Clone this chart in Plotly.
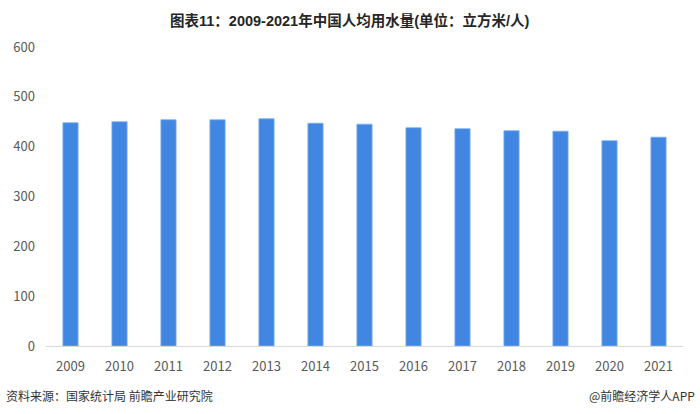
import plotly.graph_objects as go

years = ["2009", "2010", "2011", "2012", "2013", "2014", "2015", "2016", "2017", "2018", "2019", "2020", "2021"]
water_per_capita = [448, 450, 454, 454, 456, 447, 445, 438, 436, 432, 431, 412, 419]
y_ticks = [0, 100, 200, 300, 400, 500, 600]

title_text = "图表11：2009-2021年中国人均用水量(单位：立方米/人)"
source_text = "资料来源：国家统计局 前瞻产业研究院"
brand_text = "@前瞻经济学人APP"

font_cn = "Noto Sans CJK SC, Microsoft YaHei, sans-serif"
font_title = "Liberation Sans, Arial, Noto Sans CJK SC, sans-serif"

L, R, T, B = 46, 17, 47, 68
PW, PH = 700 - L - R, 414 - T - B

fig = go.Figure()
fig.add_trace(go.Bar(
    x=years, y=water_per_capita,
    marker=dict(color="#4186E1", line=dict(color="#7AAEF0", width=0.8)),
    width=0.31,
    showlegend=False,
    hoverinfo="x+y",
))

fig.update_layout(
    width=700, height=414,
    margin=dict(l=L, r=R, t=T, b=B),
    paper_bgcolor="white", plot_bgcolor="white",
    font=dict(family=font_cn, size=13, color="#595959"),
    xaxis=dict(
        type="category", showline=True, linecolor="#D9D9D9", linewidth=1,
        ticks="", showgrid=False, tickfont=dict(size=13, color="#595959"),
        ticklabelstandoff=8,
    ),
    yaxis=dict(
        range=[0, 600], tickvals=y_ticks, showgrid=False, zeroline=False,
        showline=False, ticks="", tickfont=dict(size=13, color="#595959"),
        ticklabelstandoff=10,
    ),
)

fig.add_annotation(text="<b>" + title_text + "</b>", xref="paper", yref="paper",
                   x=(350 - L) / PW, y=1 + (T - 20) / PH, xanchor="center", yanchor="middle",
                   showarrow=False, font=dict(size=14.5, color="#262626", family=font_title))
fig.add_annotation(text=source_text, xref="paper", yref="paper",
                   x=(4 - L) / PW, y=-(395 - (T + PH)) / PH, xanchor="left", yanchor="middle",
                   showarrow=False, font=dict(size=12, color="#333333", family=font_cn))
fig.add_annotation(text=brand_text, xref="paper", yref="paper",
                   x=(697 - L) / PW, y=-(396 - (T + PH)) / PH, xanchor="right", yanchor="middle",
                   showarrow=False, font=dict(size=12, color="#333333", family=font_cn))

fig.write_html("out.html", config={"displayModeBar": False},
               post_script="document.body.style.margin='0px';document.body.style.padding='0px';")
